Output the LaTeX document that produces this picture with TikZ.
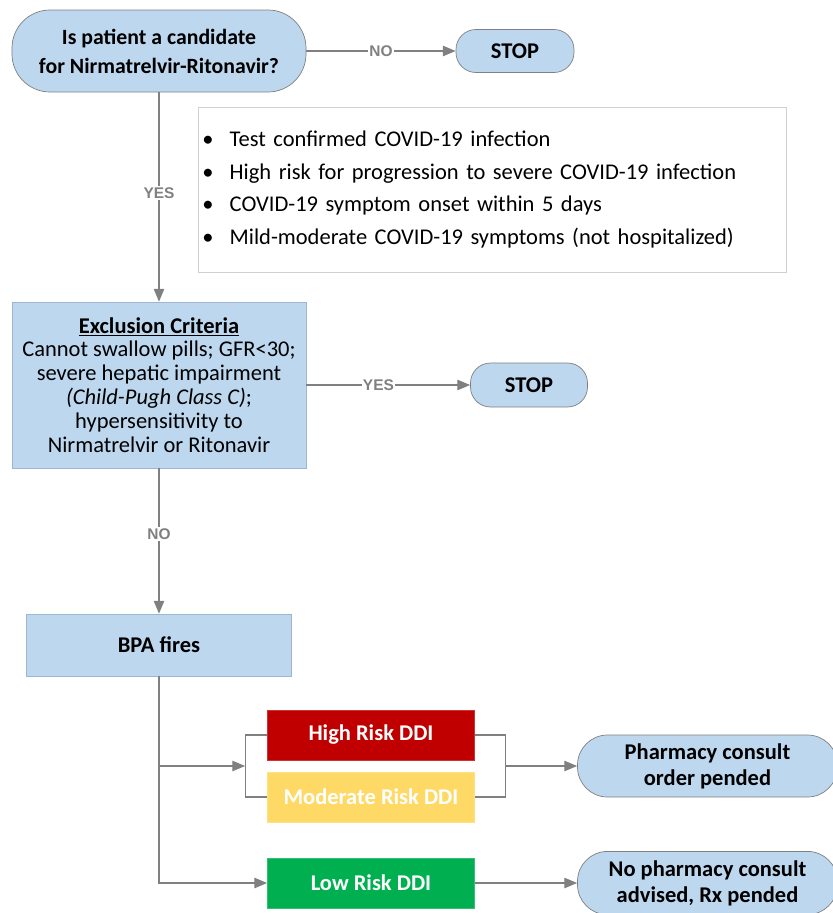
\documentclass[tikz,border=0pt]{standalone}
\usepackage{fontspec}
\setmainfont{Carlito}
\newfontfamily\lblfont{Liberation Sans}
\usetikzlibrary{positioning,arrows.meta,calc}
\definecolor{boxblue}{HTML}{BDD7EE}
\definecolor{boxedge}{HTML}{9DB7D0}
\definecolor{linegray}{HTML}{808080}
\definecolor{highred}{HTML}{C00000}
\definecolor{modyellow}{HTML}{FFD966}
\definecolor{lowgreen}{HTML}{00B050}

\begin{document}
\begin{tikzpicture}[-{Triangle[length=0.32cm,width=0.26cm]}, on grid,
line width=0.9pt, draw=linegray,
pill/.style={rectangle, rounded corners=#1, fill=boxblue, draw=linegray,
  line width=0.5pt, align=center, font=\bfseries\fontsize{16}{18.5}\selectfont},
plainbox/.style={rectangle, fill=boxblue, draw=boxedge, line width=0.5pt,
  align=center, font=\fontsize{16}{17}\selectfont},
riskbox/.style={rectangle, fill=#1, draw=#1!80!white, line width=0.5pt,
  text=white, minimum width=5.175cm, minimum height=1.25cm,
  font=\bfseries\fontsize{16}{18}\selectfont},
lbl/.style={fill=white, inner sep=1pt, text=linegray,
  font=\lblfont\bfseries\fontsize{11}{13}\selectfont}
]
\useasboundingbox (-3.975,1.275) rectangle (16.825,-21.55);
\node[pill=0.95cm, minimum width=7.35cm, minimum height=2.05cm,
  font=\bfseries\fontsize{15.5}{20.6}\selectfont] (Q)
  {Is patient a candidate\\for Nirmatrelvir-Ritonavir?};
\node[pill=0.5cm, minimum width=2.95cm, minimum height=1.075cm] (S1) [right = 8.9cm of Q] {STOP};
\node[rectangle, draw=black!18, line width=0.5pt, minimum width=14.675cm,
  minimum height=4.125cm, text width=14.5cm, align=left, inner xsep=0.1cm,
  font=\fontsize{16}{23.4}\selectfont] (crit) [below right = 3.4625cm and 8.3375cm of Q]
  {\makebox[0.68cm][l]{\textbullet}Test confirmed COVID-19 infection\\
   \makebox[0.68cm][l]{\textbullet}High risk for progression to severe COVID-19 infection\\
   \makebox[0.68cm][l]{\textbullet}COVID-19 symptom onset within 5 days\\
   \makebox[0.68cm][l]{\textbullet}Mild-moderate COVID-19 symptoms (not hospitalized)};
\node[plainbox, minimum width=7.35cm, minimum height=4.15cm] (excl) [below = 8.35cm of Q]
  {\underline{\textbf{Exclusion Criteria}}\\
   Cannot swallow pills; GFR<30;\\
   severe hepatic impairment\\
   \textit{(Child-Pugh Class C)};\\
   hypersensitivity to\\
   Nirmatrelvir or Ritonavir};
\node[pill=0.5cm, minimum width=2.925cm, minimum height=1.1cm] (S2) [right = 9.25cm of excl] {STOP};
\node[plainbox, minimum width=6.625cm, minimum height=1.55cm, font=\bfseries\fontsize{16}{18}\selectfont]
  (bpa) [below = 6.5cm of excl] {BPA fires};
\node[riskbox=highred] (high) [below right = 2.25cm and 5.3cm of bpa] {High Risk DDI};
\node[riskbox=modyellow] (mod) [below = 1.55cm of high] {Moderate Risk DDI};
\node[riskbox=lowgreen] (low) [below = 2.15cm of mod] {Low Risk DDI};
\coordinate (lj) at ($($(high.west)!0.5!(mod.west)$)+(-0.55,0)$);
\coordinate (rj) at ($($(high.east)!0.5!(mod.east)$)+(0.775,0)$);
\node[pill=0.75cm, minimum width=6.5cm, minimum height=1.58cm] (noph)
  [right = 8.4125cm of low] {No pharmacy consult\\advised, Rx pended};
\node[pill=0.75cm, minimum width=6.5cm, minimum height=1.55cm] (pharm)
  at (noph |- rj) {Pharmacy consult\\order pended};
% connectors
\draw (Q) -- node[lbl] {NO} (S1);
\draw (Q) -- node[lbl, pos=0.48] {YES} (excl);
\draw (excl) -- node[lbl, pos=0.44] {YES} (S2);
\draw (excl) -- node[lbl, pos=0.45] {NO} (bpa);
\draw (bpa.south) |- (low.west);
\draw (bpa.south |- lj) -- (lj);
\draw[-] (high.west) -| (lj) |- (mod.west);
\draw[-] (high.east) -| (rj) |- (mod.east);
\draw (rj) -- (pharm);
\draw (low) -- (noph);
\end{tikzpicture}
\end{document}
